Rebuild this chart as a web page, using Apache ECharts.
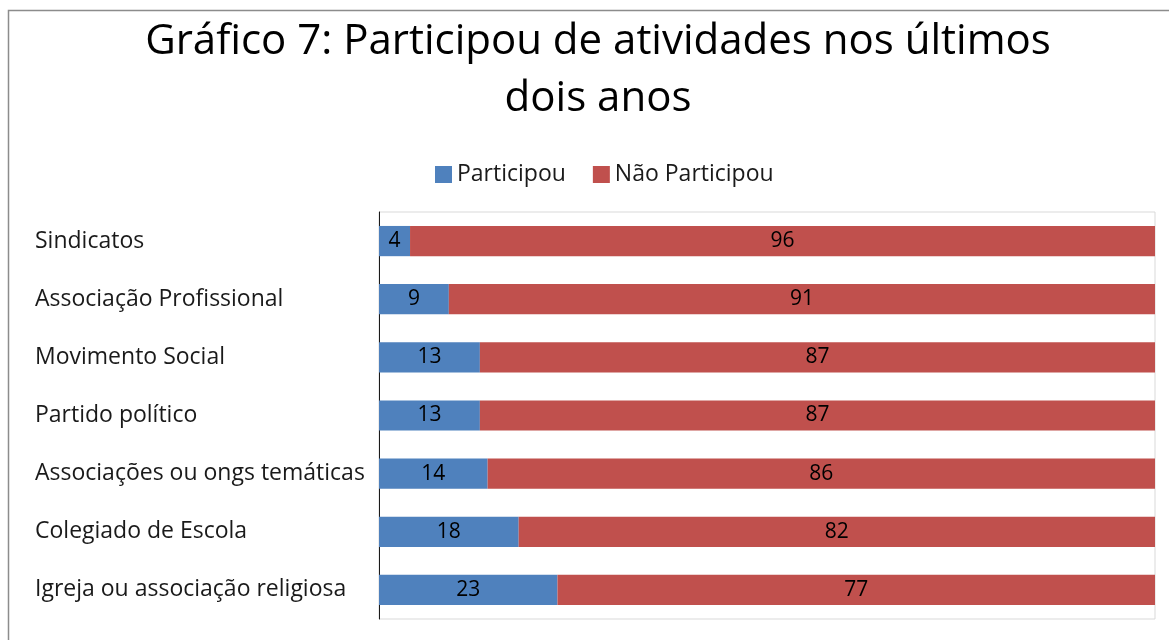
<!DOCTYPE html>
<html>
<head>
<meta charset="utf-8">
<script src="https://cdn.jsdelivr.net/npm/echarts@6/dist/echarts.min.js"></script>
<style>
html,body{margin:0;padding:0;background:#fff;}
#chart{width:1169px;height:640px;}
</style>
</head>
<body>
<div id="chart"></div>
<script>
const categories = [
  "Sindicatos",
  "Associação Profissional",
  "Movimento Social",
  "Partido político",
  "Associações ou ongs temáticas",
  "Colegiado de Escola",
  "Igreja ou associação religiosa"
];
const participou = [4, 9, 13, 13, 14, 18, 23];
const naoParticipou = [96, 91, 87, 87, 86, 82, 77];
const seriesNames = ["Participou", "Não Participou"];
const titleText = "Gráfico 7: Participou de atividades nos últimos\ndois anos";

const FONT = "'Open Sans', 'Noto Sans', sans-serif";
const chart = echarts.init(document.getElementById('chart'), null, {renderer: 'canvas'});
chart.setOption({
  animation: false,
  backgroundColor: '#ffffff',
  graphic: [{
    type: 'rect',
    shape: {x: 8.5, y: 10.5, width: 1200, height: 700},
    style: {fill: 'none', stroke: '#8c8c8c', lineWidth: 1.5},
    silent: true
  }],
  title: {
    text: titleText,
    left: 593,
    textAlign: 'center',
    top: 9,
    textStyle: {fontFamily: FONT, fontSize: 42, fontWeight: 'normal', color: '#000', lineHeight: 57}
  },
  legend: {
    top: 158,
    left: 430,
    itemWidth: 17,
    itemHeight: 17,
    itemGap: 27,
    icon: 'rect',
    textStyle: {fontFamily: FONT, fontSize: 23, color: '#1a1a1a'},
    data: seriesNames
  },
  grid: {
    left: 379, right: 14, top: 212, bottom: 21,
    show: true, borderColor: '#d9d9d9', borderWidth: 1,
    containLabel: false
  },
  xAxis: {
    type: 'value', min: 0, max: 100,
    axisLabel: {show: false}, axisLine: {show: false}, axisTick: {show: false}, splitLine: {show: false}
  },
  yAxis: {
    type: 'category',
    inverse: true,
    data: categories,
    axisLine: {show: true, lineStyle: {color: '#1a1a1a', width: 1}},
    axisTick: {show: false},
    axisLabel: {align: 'left', margin: 344, fontFamily: FONT, fontSize: 23, color: '#1a1a1a', padding: [4, 0, 0, 0]}
  },
  series: [
    {
      name: seriesNames[0], type: 'bar', stack: 'total', data: participou,
      barCategoryGap: '48%',
      itemStyle: {color: '#4F81BD'},
      label: {show: true, position: 'inside', fontFamily: FONT, fontSize: 21, color: '#000', padding: [3, 0, 0, 0]}
    },
    {
      name: seriesNames[1], type: 'bar', stack: 'total', data: naoParticipou,
      itemStyle: {color: '#C0504D'},
      label: {show: true, position: 'inside', fontFamily: FONT, fontSize: 21, color: '#000', padding: [3, 0, 0, 0]}
    }
  ]
});
</script>
</body>
</html>
